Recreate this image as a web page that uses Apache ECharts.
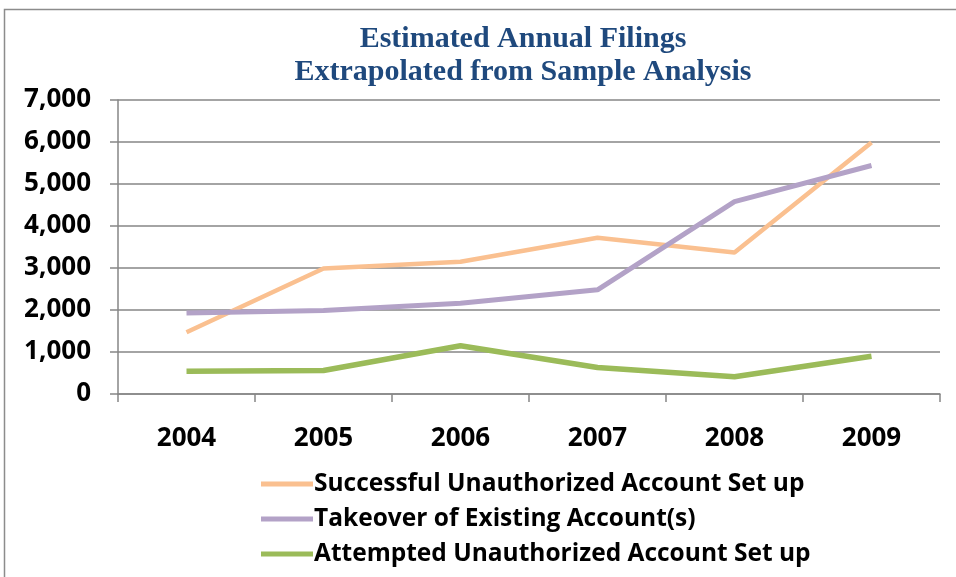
<!DOCTYPE html>
<html>
<head>
<meta charset="utf-8">
<script src="https://cdn.jsdelivr.net/npm/echarts@6/dist/echarts.min.js"></script>
<style>
  html, body { margin: 0; padding: 0; background: #fff; }
  #chart { width: 956px; height: 577px; }
</style>
</head>
<body>
<div id="chart"></div>
<script>
var years = ['2004', '2005', '2006', '2007', '2008', '2009'];
var successful = [1470, 2990, 3150, 3720, 3370, 5990];
var takeover = [1930, 1990, 2160, 2480, 4580, 5440];
var attempted = [540, 560, 1150, 630, 410, 900];
var seriesNames = [
    'Successful Unauthorized Account Set up',
    'Takeover of Existing Account(s)',
    'Attempted Unauthorized Account Set up'
];

var chart = echarts.init(document.getElementById('chart'));
var labelFont = '"Open Sans", "Noto Sans", sans-serif';

var option = {
    animation: false,
    graphic: [{
        type: 'rect',
        shape: { x: 4.5, y: 9.5, width: 970, height: 600 },
        style: { fill: 'none', stroke: '#8c8c8c', lineWidth: 1.5 },
        silent: true
    }],
    title: {
        text: 'Estimated Annual Filings\nExtrapolated from Sample Analysis',
        left: 518,
        top: 18,
        textAlign: 'center',
        textStyle: {
            fontFamily: '"Liberation Serif", "Times New Roman", serif',
            fontWeight: 'bold',
            fontSize: 30,
            lineHeight: 33,
            color: '#1F497D'
        }
    },
    legend: {
        orient: 'vertical',
        left: 256,
        top: 462,
        itemWidth: 52,
        itemHeight: 5,
        itemGap: 1,
        icon: 'rect',
        textStyle: {
            fontFamily: labelFont,
            fontWeight: 'bold',
            fontSize: 24.5,
            lineHeight: 34,
            color: '#000',
            padding: [0, 0, 0, -4]
        },
        data: seriesNames
    },
    grid: {
        left: 118,
        right: 16,
        top: 100,
        bottom: 183,
        containLabel: false
    },
    xAxis: {
        type: 'category',
        data: years,
        boundaryGap: true,
        axisLine: { lineStyle: { color: '#868686', width: 1.5 } },
        axisTick: { show: true, length: 8, interval: 0, lineStyle: { color: '#868686', width: 1.5 } },
        axisLabel: {
            fontFamily: labelFont,
            fontWeight: 'bold',
            fontSize: 26,
            color: '#000',
            margin: 32
        }
    },
    yAxis: {
        type: 'value',
        min: 0,
        max: 7000,
        interval: 1000,
        axisLine: { show: true, lineStyle: { color: '#868686', width: 1.5 } },
        axisTick: { show: true, length: 8, lineStyle: { color: '#868686', width: 1.5 } },
        splitLine: { lineStyle: { color: '#868686', width: 1.5 } },
        axisLabel: {
            fontFamily: labelFont,
            fontWeight: 'bold',
            fontSize: 26,
            color: '#000',
            margin: 27,
            formatter: function (v) { return v.toLocaleString('en-US'); }
        }
    },
    series: [
        {
            name: seriesNames[0],
            type: 'line',
            data: successful,
            symbol: 'none',
            color: '#FAC090',
            lineStyle: { width: 4.5, color: '#FAC090' }
        },
        {
            name: seriesNames[1],
            type: 'line',
            data: takeover,
            symbol: 'none',
            color: '#B3A2C7',
            lineStyle: { width: 5, color: '#B3A2C7' }
        },
        {
            name: seriesNames[2],
            type: 'line',
            data: attempted,
            symbol: 'none',
            color: '#9BBB59',
            lineStyle: { width: 5.5, color: '#9BBB59' }
        }
    ]
};

chart.setOption(option);
</script>
</body>
</html>
